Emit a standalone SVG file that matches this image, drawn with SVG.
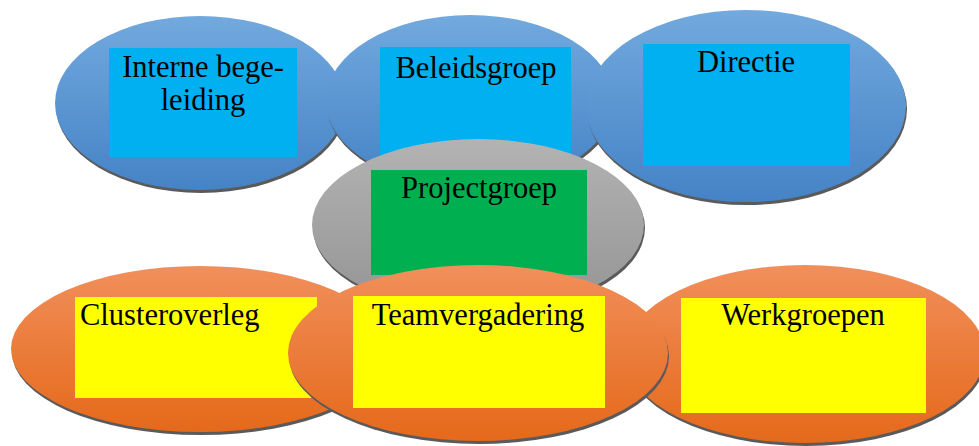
<svg xmlns="http://www.w3.org/2000/svg" width="979" height="446" viewBox="0 0 979 446">
<defs>
<linearGradient id="gBlue" x1="0" y1="0" x2="0" y2="1"><stop offset="0" stop-color="#72a9de"/><stop offset="1" stop-color="#4583c6"/></linearGradient>
<linearGradient id="gGray" x1="0" y1="0" x2="0" y2="1"><stop offset="0" stop-color="#b3b3b3"/><stop offset="1" stop-color="#949494"/></linearGradient>
<linearGradient id="gOrange" x1="0" y1="0" x2="0" y2="1"><stop offset="0" stop-color="#f18f5b"/><stop offset="1" stop-color="#e5691a"/></linearGradient>
</defs>
<style>
.sh{fill:#5a5a5a}
.blue{fill:url(#gBlue)}
.gray{fill:url(#gGray)}
.orange{fill:url(#gOrange)}
.rb{fill:#00b0f0}
.rg{fill:#00b050}
.ry{fill:#ffff00}
text{font-family:"Liberation Serif","Times New Roman",serif;font-size:30.5px;fill:#000}
.c{text-anchor:middle}
</style>
<g id="node-interne">
<ellipse class="sh" cx="201" cy="106" rx="145" ry="87"/>
<ellipse class="blue" cx="200" cy="103" rx="145" ry="87"/>
<rect class="rb" x="109" y="48" width="188" height="109"/>
<text class="c" x="203" y="77">Interne bege-</text>
<text class="c" x="203" y="110">leiding</text>
</g>
<g id="node-beleidsgroep">
<ellipse class="sh" cx="471" cy="104" rx="144" ry="86"/>
<ellipse class="blue" cx="470" cy="101" rx="144" ry="86"/>
<rect class="rb" x="380" y="47" width="191" height="108"/>
<text class="c" x="476" y="78">Beleidsgroep</text>
</g>
<g id="node-directie">
<ellipse class="sh" cx="747" cy="109" rx="160" ry="96"/>
<ellipse class="blue" cx="746" cy="106" rx="160" ry="96"/>
<rect class="rb" x="643" y="44" width="207" height="122"/>
<text class="c" x="746" y="72">Directie</text>
</g>
<g id="node-projectgroep">
<ellipse class="sh" cx="479" cy="228" rx="166" ry="86"/>
<ellipse class="gray" cx="478" cy="225" rx="166" ry="86"/>
<rect class="rg" x="371" y="170" width="216" height="105"/>
<text class="c" x="479" y="198">Projectgroep</text>
</g>
<g id="node-clusteroverleg">
<ellipse class="sh" cx="201" cy="352" rx="189" ry="83"/>
<ellipse class="orange" cx="200" cy="349" rx="189" ry="83"/>
<rect class="ry" x="75" y="297" width="242" height="101"/>
<text x="80" y="325">Clusteroverleg</text>
</g>
<g id="node-werkgroepen">
<ellipse class="sh" cx="806" cy="357" rx="180" ry="89"/>
<ellipse class="orange" cx="805" cy="354" rx="180" ry="89"/>
<rect class="ry" x="681" y="298" width="245" height="115"/>
<text class="c" x="803" y="325">Werkgroepen</text>
</g>
<g id="node-teamvergadering">
<ellipse class="sh" cx="479" cy="356" rx="190" ry="88"/>
<ellipse class="orange" cx="478" cy="353" rx="190" ry="88"/>
<rect class="ry" x="353" y="296" width="252" height="112"/>
<text class="c" x="478" y="325">Teamvergadering</text>
</g>
<g id="connectors"></g>
</svg>
